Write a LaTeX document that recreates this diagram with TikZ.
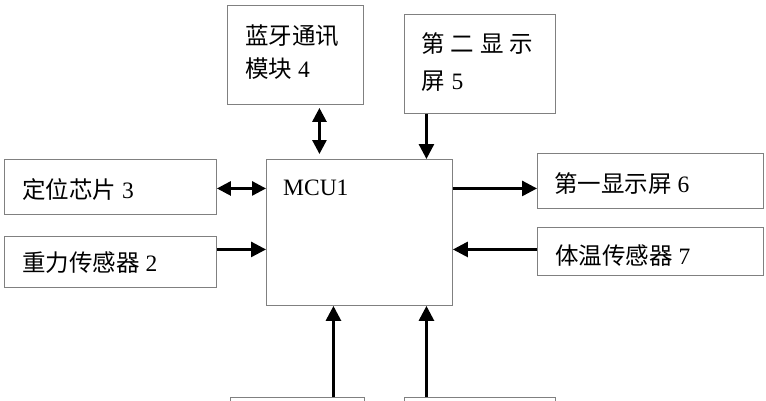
\documentclass[tikz,border=0pt]{standalone}
\usepackage{fontspec}
\setmainfont{Liberation Serif}
\newfontfamily\cjk{Noto Sans CJK SC}
\usetikzlibrary{arrows.meta}
\begin{document}
\begin{tikzpicture}[x=1pt,y=-1pt,
  box/.style={draw=black!50, line width=0.9pt, rectangle, inner sep=0pt, anchor=north west},
  lbl/.style={anchor=base west, inner sep=0pt, font=\fontsize{23.5}{28}\selectfont},
  arr/.style={line width=2.8pt, -{Triangle[length=15pt,width=15pt]}},
  darr/.style={line width=2.8pt, {Triangle[length=14pt,width=14pt]}-{Triangle[length=14pt,width=14pt]}}]
\useasboundingbox (0,0) rectangle (766,400);
\clip (0,0) rectangle (766,400);
% boxes
\node[box, minimum width=136pt, minimum height=99pt] (bt) at (227,5) {};
\node[box, minimum width=151pt, minimum height=99pt] (sd) at (404,14) {};
\node[box, minimum width=212pt, minimum height=55pt] (loc) at (4,159) {};
\node[box, minimum width=212pt, minimum height=51pt] (grav) at (4,236) {};
\node[box, minimum width=186pt, minimum height=146pt] (mcu) at (266,159) {};
\node[box, minimum width=226pt, minimum height=55pt] (fd) at (537,153) {};
\node[box, minimum width=226pt, minimum height=48pt] (temp) at (537,227) {};
\node[box, minimum width=134pt, minimum height=60pt] (b1) at (230,397) {};
\node[box, minimum width=151pt, minimum height=60pt] (b2) at (404,397) {};
% labels
\node[lbl] (btl1) at (245,44) {\cjk 蓝牙通讯};
\node[lbl] (btl2) at (245,77) {{\cjk 模块}~4};
\node[lbl] (sdl1) at (421,52) {\cjk 第\hspace{6pt}二\hspace{6pt}显\hspace{6pt}示};
\node[lbl] (sdl2) at (421,89) {{\cjk 屏}\hspace{7pt}5};
\node[lbl] (locl) at (22,198) {{\cjk 定位芯片}~3};
\node[lbl] (gravl) at (22,271) {{\cjk 重力传感器}~2};
\node[lbl] (fdl) at (554,192) {{\cjk 第一显示屏}~6};
\node[lbl] (templ) at (555,264) {{\cjk 体温传感器}~7};
\node[lbl] (mcul) at (283,195) {MCU1};
% connector anchors
\coordinate (btc) at ([xshift=24pt]bt.south);
\coordinate (sdc) at ([xshift=-53.5pt]sd.south);
\coordinate (locc) at ([yshift=-1.5pt]loc.east);
\coordinate (gravc) at ([yshift=12.5pt]grav.east);
\coordinate (fdc) at ([yshift=-7.5pt]fd.west);
\coordinate (tempc) at ([yshift=2pt]temp.west);
\coordinate (b1c) at ([xshift=36pt]b1.north);
\coordinate (b2c) at ([xshift=-53.5pt]b2.north);
% connectors
\draw[darr, shorten <=3pt, shorten >=5pt] (btc) -- (btc |- mcu.north);
\draw[arr] (sdc) -- (sdc |- mcu.north);
\draw[darr] (locc) -- (locc -| mcu.west);
\draw[arr] (gravc) -- (gravc -| mcu.west);
\draw[arr] (fdc -| mcu.east) -- (fdc);
\draw[arr] (tempc) -- (tempc -| mcu.east);
\draw[arr] (b1c) -- (b1c |- mcu.south);
\draw[arr] (b2c) -- (b2c |- mcu.south);
\end{tikzpicture}
\end{document}
